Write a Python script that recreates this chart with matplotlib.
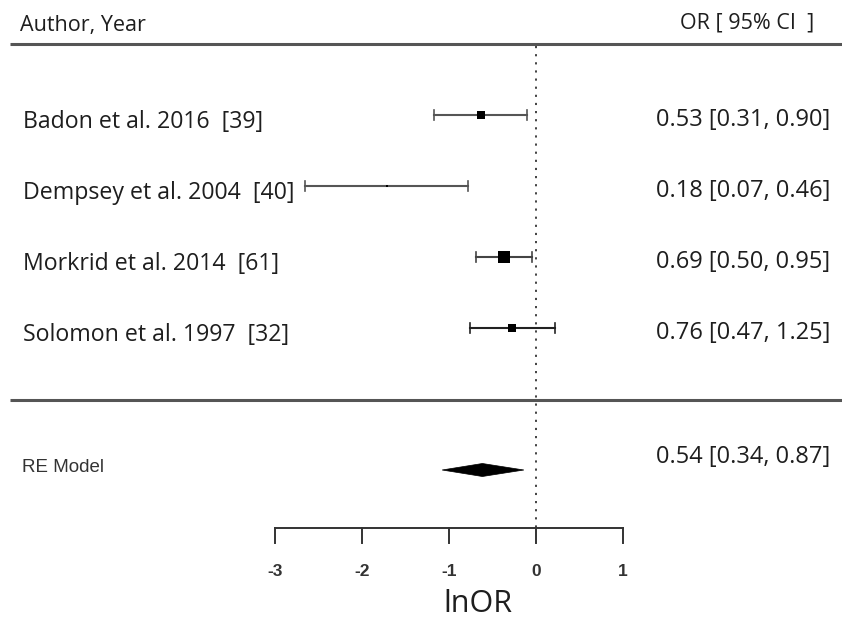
import numpy as np
import matplotlib.pyplot as plt
from matplotlib.patches import Polygon

# study data (odds ratios with 95% CI)
studies = ['Badon et al. 2016  [39]', 'Dempsey et al. 2004  [40]',
           'Morkrid et al. 2014  [61]', 'Solomon et al. 1997  [32]']
or_est = [0.53, 0.18, 0.69, 0.76]
or_low = [0.31, 0.07, 0.50, 0.47]
or_high = [0.90, 0.46, 0.95, 1.25]
weights = [20, 2, 42, 17]

# random-effects summary
re_est = 0.54
re_low = 0.34
re_high = 0.87

xticks = [-3, -2, -1, 0, 1]

W, H = 842, 627
fig = plt.figure(figsize=(W / 100, H / 100), dpi=100)
ax = fig.add_axes([0, 0, 1, 1])
# x in lnOR units, y in pixel rows (top = 0)
x0_px, unit_px = 536, 87
ax.set_xlim(-x0_px / unit_px, (W - x0_px) / unit_px)
ax.set_ylim(H, 0)
ax.axis('off')


def px(x):
    return (x - x0_px) / unit_px


txt_font = 'Open Sans'
txt_color = '#1e1e1e'

# header
ax.text(px(20), 25, 'Author, Year', fontsize=15.5, family=txt_font,
        color=txt_color, va='center', ha='left')
ax.text(px(814), 23, 'OR [ 95% CI  ]', fontsize=15.5, family=txt_font,
        color=txt_color, va='center', ha='right')
ax.plot([px(10), px(W)], [44, 44], color='#555555', lw=2.2, solid_capstyle='butt')

# reference line at 0
ax.plot([0, 0], [46, 528], color='#333333', lw=1.3, linestyle=(0, (1.2, 3.3)))

# studies
row_y = [115 + 71 * i for i in range(len(studies))]
ci_colors = ['#555555', '#555555', '#444444', '#222222']
for i, name in enumerate(studies):
    y = row_y[i]
    est, lo, hi = np.log(or_est[i]), np.log(or_low[i]), np.log(or_high[i])
    ax.plot([lo, hi], [y, y], color=ci_colors[i], lw=1.5)
    for xe in (lo, hi):
        ax.plot([xe, xe], [y - 5, y + 5], color=ci_colors[i], lw=1.2)
    ax.plot(est, y, marker='s', color='black', markersize=1.3 * np.sqrt(weights[i]),
            markeredgewidth=0)
    ax.text(px(23), y + 7, name, fontsize=16.7, family=txt_font, color=txt_color,
            va='center', ha='left')
    ax.text(px(830), y + 5, f'{or_est[i]:.2f} [{or_low[i]:.2f}, {or_high[i]:.2f}]',
            fontsize=17, family=txt_font, color=txt_color, va='center', ha='right')

# separator line
ax.plot([px(10), px(W)], [400, 400], color='#555555', lw=2.2, solid_capstyle='butt')

# summary diamond
yd = 470
diamond = Polygon([[np.log(re_low), yd], [np.log(re_est), yd - 6.5],
                   [np.log(re_high), yd], [np.log(re_est), yd + 6.5]],
                  closed=True, facecolor='black', edgecolor='black', lw=0.5)
ax.add_patch(diamond)
ax.text(px(22), 468, 'RE Model', fontsize=13.5, family='Liberation Sans', color='#333333',
        va='center', ha='left')
ax.text(px(830), 457, f'{re_est:.2f} [{re_low:.2f}, {re_high:.2f}]', fontsize=17,
        family=txt_font, color=txt_color, va='center', ha='right')

# x axis
ya = 528
ax.plot([xticks[0], xticks[-1]], [ya, ya], color='#333333', lw=1.4)
for t in xticks:
    ax.plot([t, t], [ya, ya + 15], color='#333333', lw=1.4)
    ax.text(t, 572, f'{t:d}', fontsize=12.5, family='Liberation Sans', fontweight='bold',
            color='#333333', va='center', ha='center')
ax.text(px(478), 604, 'lnOR', fontsize=22, family=txt_font, color=txt_color,
        va='center', ha='center')

fig.savefig('out.png', dpi=100)
